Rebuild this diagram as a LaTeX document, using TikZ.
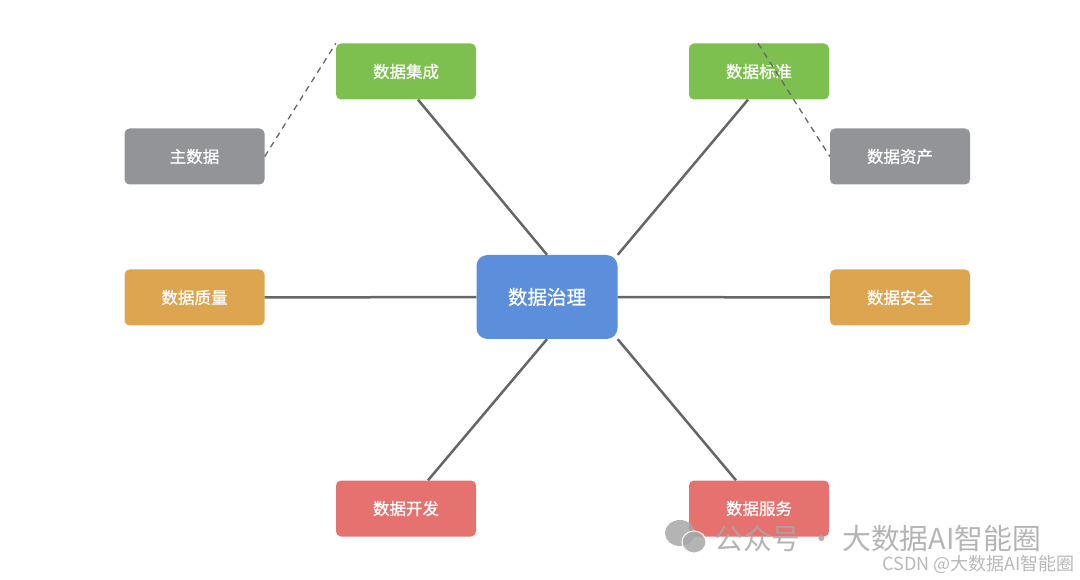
\documentclass[tikz,border=0pt]{standalone}
\usepackage{fontspec}
\setmainfont{Noto Sans CJK SC}
\newfontfamily\boxfont[FakeBold=0.7]{Noto Sans CJK SC}
\definecolor{cgreen}{HTML}{7DC050}
\definecolor{cgray}{HTML}{939498}
\definecolor{corange}{HTML}{DDA550}
\definecolor{cblue}{HTML}{5B8FDB}
\definecolor{cred}{HTML}{E5726E}
\definecolor{cline}{HTML}{666666}
\definecolor{cmark}{HTML}{A8A8A8}
\tikzset{
  box/.style={rectangle,rounded corners=5pt,minimum width=140pt,minimum height=56pt,
    inner sep=0pt,text=white,font=\boxfont\fontsize{16.5}{18}\selectfont},
  hubbox/.style={box,rounded corners=11pt,minimum width=141pt,minimum height=84pt,
    font=\boxfont\fontsize{19.5}{22}\selectfont},
  link/.style={draw=cline,line width=2.5pt},
  dashlink/.style={draw=cline,line width=1.3pt,dash pattern=on 6pt off 5pt},
}
\begin{document}
\begin{tikzpicture}[x=1pt,y=-1pt]
\useasboundingbox[fill=white] (0,0) rectangle (1080,580);

\node[hubbox,fill=cblue] (hub) at (547,297) {数据治理};

\node[box,fill=cgreen] (integ) at (406,71.5) {数据集成};
\node[box,fill=cgreen] (std) at (759,71.5) {数据标准};
\node[box,fill=cgray] (master) at (194.5,156.5) {主数据};
\node[box,fill=cgray] (asset) at (900,156.5) {数据资产};
\node[box,fill=corange] (quality) at (194.5,297.5) {数据质量};
\node[box,fill=corange] (security) at (900,297.5) {数据安全};
\node[box,fill=cred] (dev) at (406,508.5) {数据开发};
\node[box,fill=cred] (service) at (759,508.5) {数据服务};

\draw[link] (hub.north) -- ([xshift=12pt]integ.south);
\draw[link] (hub.north east) -- ([xshift=-11pt]std.south);
\draw[link] (quality.east) -- (hub.west);
\draw[link] (hub.east) -- (security.west);
\draw[link] (hub.south) -- ([xshift=22pt]dev.north);
\draw[link] (hub.south east) -- ([xshift=-23pt]service.north);

% dashed side links
\draw[dashlink] (master.east) -- (integ.north west);
\draw[dashlink] ([xshift=-1pt]std.north) -- (asset.west);

% watermark
\fill[cmark,opacity=0.85] (680,533) ellipse (15pt and 13pt);
\fill[cmark,opacity=0.85,draw=white,line width=1.2pt] (694,542) ellipse (12pt and 11pt);
\node[anchor=west,text=cmark,opacity=0.85,inner sep=0pt,font=\fontsize{28.8}{30}\selectfont] (mark) at (714,539) {公众号 · 大数据AI智能圈};
\node[anchor=east,text=cmark!80,inner sep=0pt,font=\fontsize{18}{20}\selectfont] (csdn) at (1075,564) {CSDN @大数据AI智能圈};

\end{tikzpicture}
\end{document}
